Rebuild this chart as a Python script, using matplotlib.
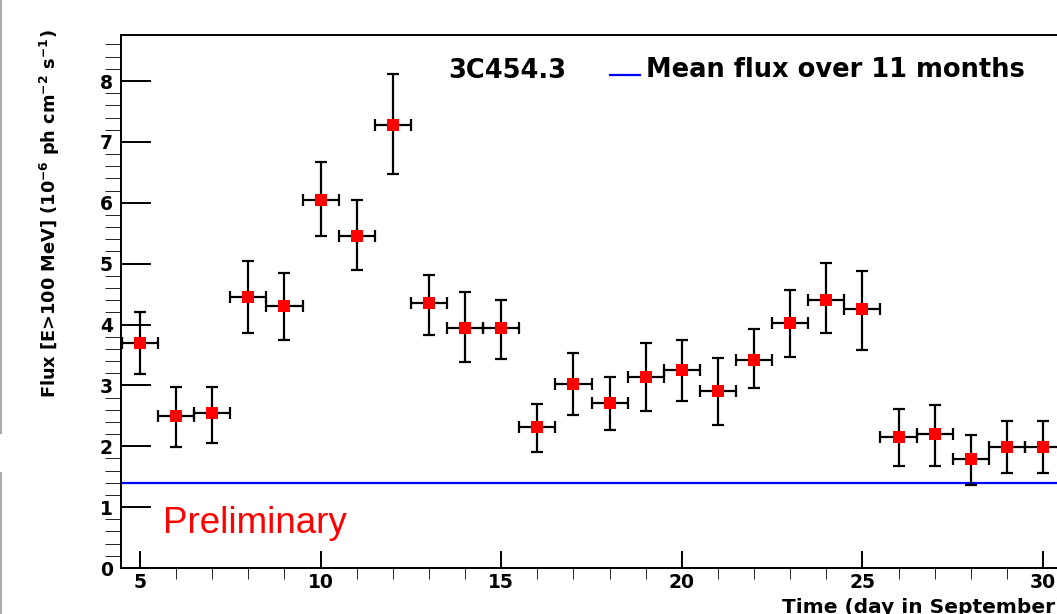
import matplotlib.pyplot as plt
import matplotlib.lines as mlines
from matplotlib.ticker import MultipleLocator
from matplotlib.transforms import Affine2D

# daily gamma-ray flux of 3C454.3, September
days = list(range(5, 31))
flux = [3.69, 2.50, 2.54, 4.46, 4.30, 6.05, 5.45, 7.28, 4.35, 3.94, 3.94, 2.31, 3.02,
        2.71, 3.14, 3.26, 2.90, 3.42, 4.02, 4.41, 4.26, 2.15, 2.20, 1.79, 1.99, 1.99]
err_hi = [0.51, 0.48, 0.44, 0.58, 0.55, 0.62, 0.60, 0.84, 0.46, 0.59, 0.47, 0.39, 0.52,
          0.43, 0.56, 0.48, 0.55, 0.51, 0.55, 0.60, 0.62, 0.47, 0.47, 0.39, 0.43, 0.43]
err_lo = [0.50, 0.51, 0.48, 0.60, 0.55, 0.60, 0.55, 0.80, 0.53, 0.56, 0.51, 0.40, 0.51,
          0.44, 0.56, 0.52, 0.55, 0.47, 0.56, 0.55, 0.68, 0.47, 0.52, 0.43, 0.43, 0.43]
day_halfwidth = [0.5] * len(days)
mean_flux = 1.39

plt.rcParams['font.family'] = 'DejaVu Sans'
plt.rcParams['font.weight'] = 'bold'
plt.rcParams['mathtext.fontset'] = 'dejavusans'
plt.rcParams['mathtext.default'] = 'bf'

W, H = 1057, 614
fig = plt.figure(figsize=(W / 100, H / 100), dpi=100)
ax = fig.add_axes([121 / W, 46 / H, 936 / W, 533 / H])

mean_line = ax.axhline(mean_flux, color='#0000ff', lw=1.6)
ax.errorbar(days, flux, yerr=[err_lo, err_hi], xerr=day_halfwidth, fmt='none',
            ecolor='black', elinewidth=1.6, capsize=4.3, capthick=1.6, zorder=3)
ax.plot(days, flux, 's', color='#ff0000', ms=9.2, mew=0, zorder=4)

ax.set_xlim(4.474, 30.387)
ax.set_ylim(0, 8.756)
ax.xaxis.set_major_locator(MultipleLocator(5))
ax.xaxis.set_minor_locator(MultipleLocator(1))
ax.yaxis.set_major_locator(MultipleLocator(1))
ax.yaxis.set_minor_locator(MultipleLocator(0.2))
ax.tick_params(direction='in', width=1.4, labelsize=13.5, colors='black')
ax.tick_params(axis='y', which='major', length=21.6, pad=5.8)
ax.tick_params(axis='y', which='minor', length=11.5)
ax.tick_params(axis='x', which='major', length=12.2, pad=3.6)
ax.tick_params(axis='x', which='minor', length=7.9)
for lbl in ax.get_xticklabels() + ax.get_yticklabels():
    lbl.set_fontweight('bold')
for side in ['left', 'bottom', 'top']:
    ax.spines[side].set_linewidth(1.4)
ax.spines['right'].set_visible(False)

fig.text(448 / W, 1 - 78 / H, '3C454.3', fontsize=18.5, fontweight='bold', va='baseline')
leg = ax.legend([mean_line], ['Mean flux over 11 months'], loc='center left',
                bbox_to_anchor=(610 / W, 1 - 70 / H), bbox_transform=fig.transFigure,
                frameon=False, borderpad=0, borderaxespad=0, handlelength=1.15,
                handletextpad=0.27, prop={'size': 18.5, 'weight': 'bold'})
# sit the legend stroke near the text baseline
key = leg.get_lines()[0]
key.set_transform(key.get_transform() + Affine2D().translate(0, -7))

fig.text(163 / W, 1 - 533 / H, 'Preliminary', color='#ff0000', fontsize=26.5,
         family='Liberation Sans', fontweight='normal', va='baseline')

fig.text(782 / W, 1 - 613 / H, 'Time (day in September)', fontsize=14.5,
         fontweight='bold', va='baseline')
fig.text(56 / W, 1 - 214 / H,
         r'Flux [E>100 MeV] (10$^{-6}$ ph cm$^{-2}$ s$^{-1}$)',
         fontsize=12.8, fontweight='bold', rotation=90, rotation_mode='anchor',
         ha='center', va='baseline')

# thin grey border on the left edge
fig.add_artist(mlines.Line2D([1 / W, 1 / W], [1, 1 - 433 / H], color='#aaaaaa', lw=1.5))
fig.add_artist(mlines.Line2D([1 / W, 1 / W], [1 - 473 / H, 0], color='#aaaaaa', lw=1.5))

plt.savefig('out.png', dpi=100)
